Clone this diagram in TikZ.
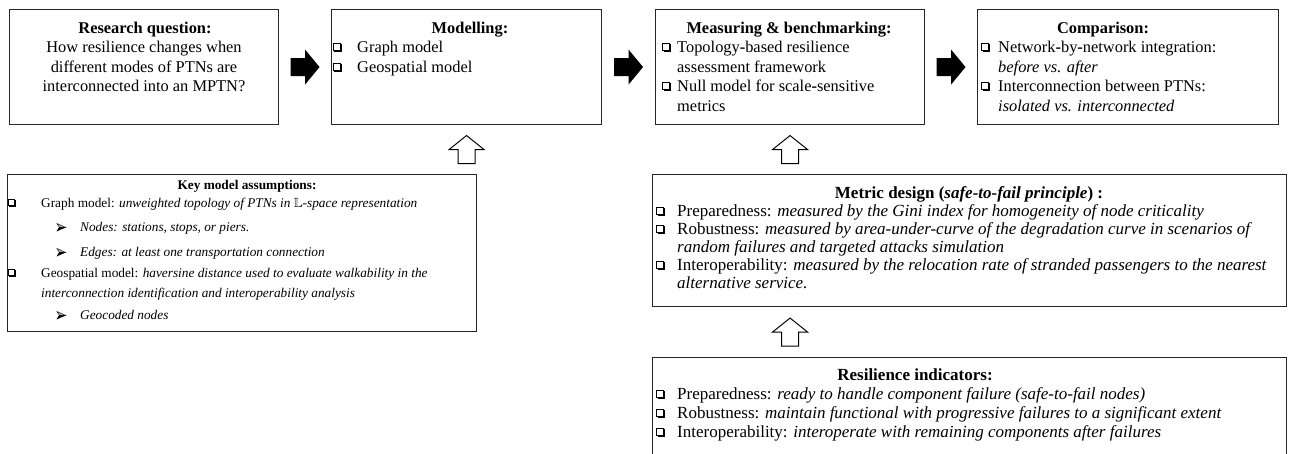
\documentclass[tikz,border=0pt]{standalone}
\usepackage{amssymb}
\usepackage{fontspec}
\setmainfont{Liberation Serif}
\usetikzlibrary{calc}
\newcommand{\fbig}{\fontsize{16.4}{19}\selectfont}
\newcommand{\fmid}{\fontsize{17}{19}\selectfont}
\newcommand{\fsml}{\fontsize{13.3}{16}\selectfont}
\tikzset{
 boxnode/.style={draw=black!85, line width=1.1pt, anchor=north west, inner sep=0pt},
 bt/.style={anchor=base west, inner sep=0pt, font=\fbig},
 bh/.style={anchor=base, inner sep=0pt, font=\fbig\bfseries},
 mt/.style={anchor=base west, inner sep=0pt, font=\fmid},
 mh/.style={anchor=base, inner sep=0pt, font=\fmid\bfseries},
 st/.style={anchor=base west, inner sep=0pt, font=\fsml},
 sh/.style={anchor=base, inner sep=0pt, font=\fsml\bfseries},
 chk/.pic={
   \fill[black] (1.3,-6.7) rectangle (7.8,0.3);
   \filldraw[fill=white, draw=black, line width=0.7pt] (0,-7.8) rectangle (6.5,-1.3);
 },
 arrb/.pic={
   \filldraw[fill=black!30, draw=black, line width=0.4pt] (0,-7.5) -- (8.5,-3.7) -- (2.3,-3.7) -- cycle;
   \filldraw[fill=black, draw=black, line width=0.4pt] (0,0) -- (8.5,-3.7) -- (2.3,-3.7) -- cycle;
 },
 blkarrow/.pic={
   \fill[black] (-14.5,-9) -- (0,-9) -- (0,-17.5) -- (14.5,0) -- (0,17.5) -- (0,9) -- (-14.5,9) -- cycle;
 },
 hup/.pic={
   \filldraw[fill=white, draw=black, line width=1pt, line join=miter]
     (-8.5,14) -- (-8.5,0) -- (-17.5,0) -- (0,-14) -- (17.5,0) -- (8.5,0) -- (8.5,14) -- cycle;
 }
}
\begin{document}
\begin{tikzpicture}[x=1pt,y=-1pt]
\useasboundingbox (0,0) rectangle (1290,453);
\clip (0,0) rectangle (1290,453);

% ---------- top row boxes ----------
\node[boxnode, minimum width=269pt, minimum height=115pt] (rq) at (9,9) {};
\node[boxnode, minimum width=270pt, minimum height=115pt] (mod) at (331,9) {};
\node[boxnode, minimum width=269pt, minimum height=115pt] (meas) at (655,9) {};
\node[boxnode, minimum width=301pt, minimum height=115pt] (comp) at (977,9) {};

% Research question
\node[bh] (rq0) at (145,33) {Research question:};
\node[bt, anchor=base] (rq1) at (144,52) {How resilience changes when};
\node[bt, anchor=base] (rq2) at (144,72) {different modes of PTNs are};
\node[bt, anchor=base] (rq3) at (144,91) {interconnected into an MPTN?};

% Modelling
\node[bh] (mod0) at (470,33) {Modelling:};
\pic[scale=1.15] at (333,52) {chk};
\node[bt] (mod1) at (357,52) {Graph model};
\pic[scale=1.15] at (333,72) {chk};
\node[bt] (mod2) at (357,72) {Geospatial model};

% Measuring
\node[bh] (meas0) at (789,33) {Measuring \& benchmarking:};
\pic[scale=1.15] at (662,52) {chk};
\node[bt] (meas1) at (677,52) {Topology\textbf{-}based resilience};
\node[bt] (meas2) at (677,72) {assessment framework};
\pic[scale=1.15] at (662,91) {chk};
\node[bt] (meas3) at (677,91) {Null model for scale\textbf{-}sensitive};
\node[bt] (meas4) at (677,111) {metrics};

% Comparison
\node[bh] (comp0) at (1103,33) {Comparison:};
\pic[scale=1.15] at (981,52) {chk};
\node[bt] (comp1) at (998,52) {Network\textbf{-}by\textbf{-}network integration:};
\node[bt] (comp2) at (998,72) {\textit{before vs. after}};
\pic[scale=1.15] at (981,91) {chk};
\node[bt] (comp3) at (998,91) {Interconnection between PTNs:};
\node[bt] (comp4) at (998,111) {\textit{isolated vs. interconnected}};

% block arrows
\pic at ($(rq.east)!0.5!(mod.west)$) {blkarrow};
\pic at ($(mod.east)!0.5!(meas.west)$) {blkarrow};
\pic at ($(meas.east)!0.5!(comp.west)$) {blkarrow};

% ---------- lower boxes ----------
\node[boxnode, minimum width=469pt, minimum height=157pt] (key) at (7,174) {};
\node[boxnode, minimum width=634pt, minimum height=132pt] (met) at (652,174) {};
\node[boxnode, minimum width=634pt, minimum height=130pt] (res) at (652,357) {};

% Key model assumptions
\node[sh] (key0) at (247,189) {Key model assumptions:};
\pic at (8,207) {chk};
\node[st] (key1) at (41,207) {Graph model: \textit{unweighted topology of PTNs in $\mathbb{L}$-space representation}};
\pic at (57,231) {arrb};
\node[st] (key2) at (80,231) {\textit{Nodes: stations, stops, or piers.}};
\pic at (57,256) {arrb};
\node[st] (key3) at (80,256) {\textit{Edges: at least one transportation connection}};
\pic at (8,277) {chk};
\node[st] (key4) at (41,277) {Geospatial model: \textit{haversine distance used to evaluate walkability in the}};
\node[st] (key5) at (41,297) {\textit{interconnection identification and interoperability analysis}};
\pic at (57,319) {arrb};
\node[st] (key6) at (80,319) {\textit{Geocoded nodes}};

% Metric design
\node[mh] (met0) at (969,198) {Metric design (\textit{safe-to-fail principle}) :};
\pic[scale=1.15] at (656,216) {chk};
\node[mt] (met1) at (677,216) {Preparedness: \textit{measured by the Gini index for homogeneity of node criticality}};
\pic[scale=1.15] at (656,234) {chk};
\node[mt] (met2) at (677,234) {Robustness: \textit{measured by area-under-curve of the degradation curve in scenarios of}};
\node[mt] (met3) at (677,252) {\textit{random failures and targeted attacks simulation}};
\pic[scale=1.15] at (656,270) {chk};
\node[mt] (met4) at (677,270) {Interoperability: \textit{measured by the relocation rate of stranded passengers to the nearest}};
\node[mt] (met5) at (677,288) {\textit{alternative service.}};

% Resilience indicators
\node[mh] (res0) at (915,380) {Resilience indicators:};
\pic[scale=1.15] at (656,399) {chk};
\node[mt] (res1) at (677,399) {Preparedness: \textit{ready to handle component failure (safe-to-fail nodes)}};
\pic[scale=1.15] at (656,418) {chk};
\node[mt] (res2) at (677,418) {Robustness: \textit{maintain functional with progressive failures to a significant extent}};
\pic[scale=1.15] at (656,437) {chk};
\node[mt] (res3) at (677,437) {Interoperability: \textit{interoperate with remaining components after failures}};

% hollow up arrows
\pic at ($(mod.south)!0.5!(mod.south |- key.north)$) {hup};
\pic at ($(meas.south)!0.5!(meas.south |- met.north)$) {hup};
\pic at ($(meas.south |- met.south)!0.5!(meas.south |- res.north)$) {hup};
\end{tikzpicture}
\end{document}
